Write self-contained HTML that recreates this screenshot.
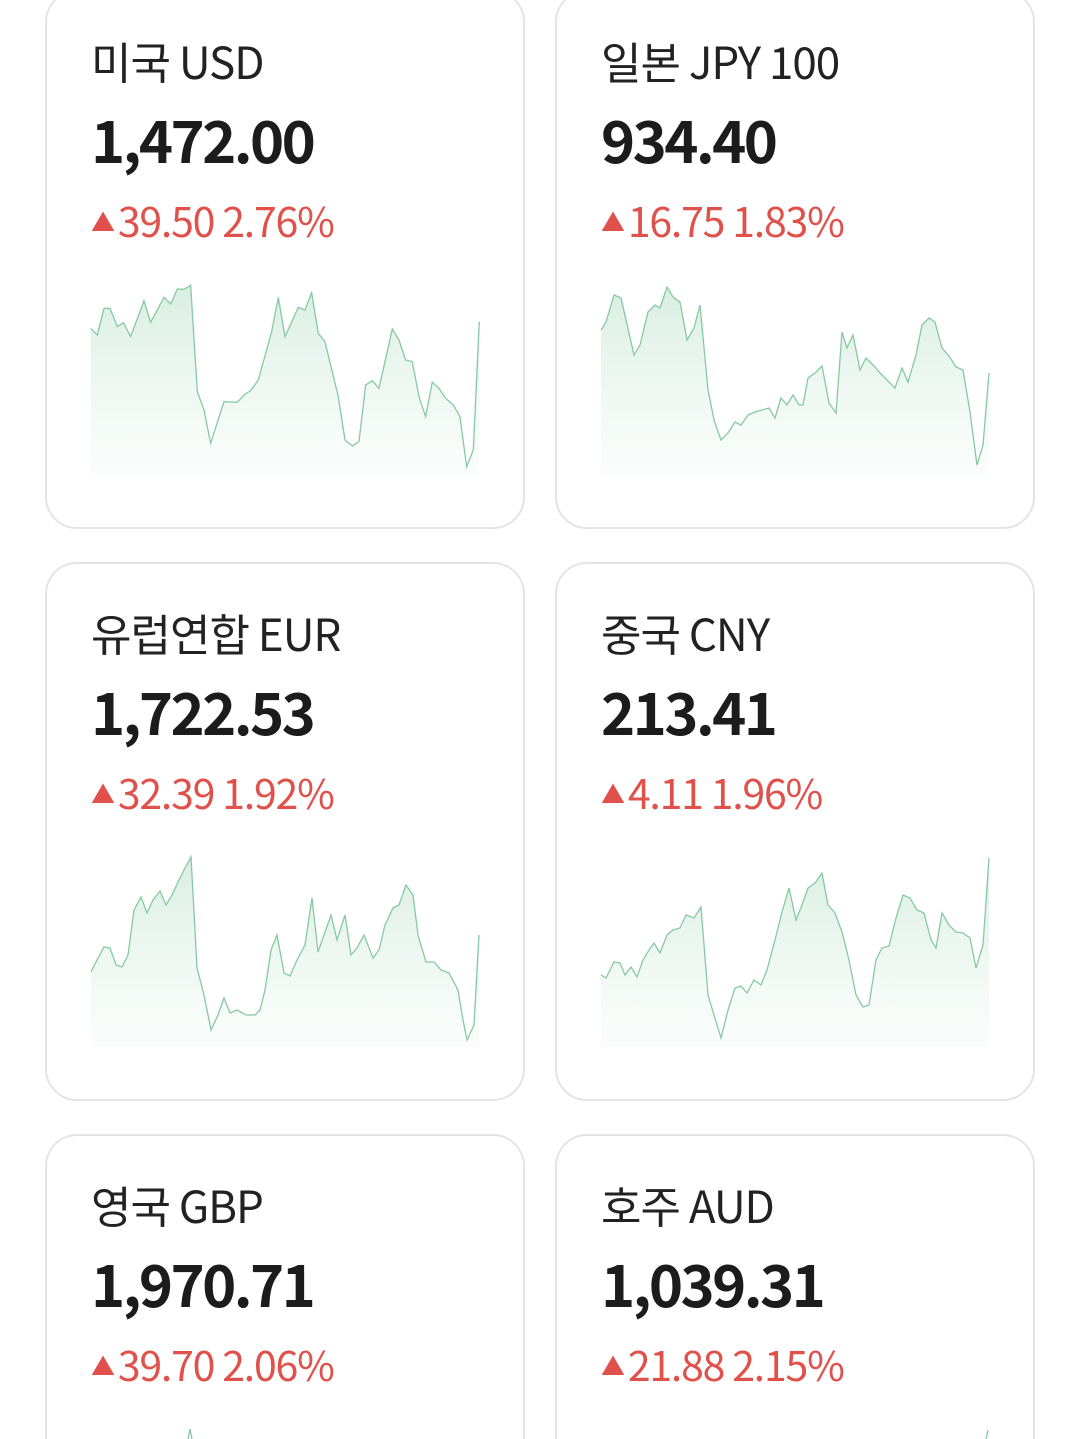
<!DOCTYPE html>
<html style="margin:0;width:1080px;height:1439px;overflow:hidden"><head><meta charset="utf-8"><style>
body{margin:0;width:1080px;height:1439px;background:#fff;overflow:hidden;position:relative;font-family:"Liberation Sans","Noto Sans CJK KR",sans-serif}
#w{position:absolute;left:0;top:0;width:1080px;height:1439px;overflow:hidden}
.card{position:absolute;width:476px;height:535px;border:2px solid #e4e4e4;border-radius:32px;background:#fff}
.card.b{height:320px;border-bottom:none;border-radius:32px 32px 0 0}
.t{position:absolute;left:44px;font-family:"Noto Sans CJK KR",sans-serif;color:#222;white-space:nowrap}
.name{top:36px;font-size:44px;font-weight:400;letter-spacing:-1px}
.val{top:104px;font-size:58px;font-weight:700;letter-spacing:-2.6px;color:#1c1c1c}
.chg{top:197px;font-size:41px;color:#e0514b;letter-spacing:-1.2px}
.chg span{font-size:24px;vertical-align:6px;margin-right:4px}
svg.s{position:absolute;left:0;top:0}
</style></head><body><div id="w">
<div class="card" style="left:45px;top:-10px"><div class="t name">미국 USD</div><div class="t val">1,472.00</div><div class="t chg"><span>▲</span>39.50 2.76%</div></div>
<div class="card" style="left:555px;top:-10px"><div class="t name">일본 JPY 100</div><div class="t val">934.40</div><div class="t chg"><span>▲</span>16.75 1.83%</div></div>
<div class="card" style="left:45px;top:562px"><div class="t name">유럽연합 EUR</div><div class="t val">1,722.53</div><div class="t chg"><span>▲</span>32.39 1.92%</div></div>
<div class="card" style="left:555px;top:562px"><div class="t name">중국 CNY</div><div class="t val">213.41</div><div class="t chg"><span>▲</span>4.11 1.96%</div></div>
<div class="card b" style="left:45px;top:1134px"><div class="t name">영국 GBP</div><div class="t val">1,970.71</div><div class="t chg"><span>▲</span>39.70 2.06%</div></div>
<div class="card b" style="left:555px;top:1134px"><div class="t name">호주 AUD</div><div class="t val">1,039.31</div><div class="t chg"><span>▲</span>21.88 2.15%</div></div>
<svg class="s" width="1080" height="1439">
<defs><linearGradient id="g" x1="0" y1="0" x2="0" y2="1"><stop offset="0" stop-color="#cfe9da" stop-opacity=".8"/><stop offset="1" stop-color="#e8f5ee" stop-opacity=".2"/></linearGradient></defs>
<g fill="none" stroke="#86c9a2" stroke-width="1.3">
<g transform="translate(40,270) scale(0.3333)">
<polygon stroke="none" fill="url(#g)" points="152,175 172,195 192,115 210,115 232,170 250,158 272,200 312,92 332,157 372,82 392,102 412,57 432,58 452,46 472,365 492,420 512,520 552,395 592,397 612,375 632,362 655,330 695,185 715,82 735,200 775,112 795,120 815,68 835,190 855,215 895,380 915,510 937,528 957,515 977,345 997,332 1017,355 1057,177 1077,210 1097,270 1117,275 1137,380 1157,440 1177,337 1197,355 1217,385 1240,405 1260,440 1280,590 1300,540 1318,155 1318,620 152,620"/>
<polyline vector-effect="non-scaling-stroke" points="152,175 172,195 192,115 210,115 232,170 250,158 272,200 312,92 332,157 372,82 392,102 412,57 432,58 452,46 472,365 492,420 512,520 552,395 592,397 612,375 632,362 655,330 695,185 715,82 735,200 775,112 795,120 815,68 835,190 855,215 895,380 915,510 937,528 957,515 977,345 997,332 1017,355 1057,177 1077,210 1097,270 1117,275 1137,380 1157,440 1177,337 1197,355 1217,385 1240,405 1260,440 1280,590 1300,540 1318,155"/>
</g>
<polygon stroke="none" fill="url(#g)" points="601,330 606,322 614,295 621,298 634,355 640,345 648,312 655,305 660,308 667,287 673,297 680,302 687,340 694,328 700,305 708,390 714,420 721,440 728,433 735,422 741,425 748,415 755,412 762,410 769,408 775,418 781,398 787,405 793,395 799,405 803,405 808,378 815,373 822,366 829,403 836,413 842,332 847,348 853,335 860,370 866,358 874,366 880,373 887,380 895,388 902,368 908,382 916,355 922,325 929,318 935,322 942,348 949,356 956,367 963,370 970,412 977,465 983,445 989,373 989,477 601,477"/>
<polyline points="601,330 606,322 614,295 621,298 634,355 640,345 648,312 655,305 660,308 667,287 673,297 680,302 687,340 694,328 700,305 708,390 714,420 721,440 728,433 735,422 741,425 748,415 755,412 762,410 769,408 775,418 781,398 787,405 793,395 799,405 803,405 808,378 815,373 822,366 829,403 836,413 842,332 847,348 853,335 860,370 866,358 874,366 880,373 887,380 895,388 902,368 908,382 916,355 922,325 929,318 935,322 942,348 949,356 956,367 963,370 970,412 977,465 983,445 989,373"/>
<polygon stroke="none" fill="url(#g)" points="91,972 97,960 104,947 110,948 116,965 122,967 128,955 134,910 141,897 147,913 153,900 160,891 166,905 172,895 179,880 185,868 191,857 197,968 204,995 211,1030 218,1015 224,998 230,1013 237,1010 246,1015 255,1015 260,1010 265,990 271,950 277,935 284,973 290,976 297,960 305,945 312,898 318,952 324,935 331,915 337,940 345,915 351,955 357,948 364,935 373,958 379,950 385,925 393,908 399,905 406,885 413,895 418,935 426,962 434,962 441,970 449,973 458,990 463,1020 467,1040 474,1025 479,935 479,1047 91,1047"/>
<polyline points="91,972 97,960 104,947 110,948 116,965 122,967 128,955 134,910 141,897 147,913 153,900 160,891 166,905 172,895 179,880 185,868 191,857 197,968 204,995 211,1030 218,1015 224,998 230,1013 237,1010 246,1015 255,1015 260,1010 265,990 271,950 277,935 284,973 290,976 297,960 305,945 312,898 318,952 324,935 331,915 337,940 345,915 351,955 357,948 364,935 373,958 379,950 385,925 393,908 399,905 406,885 413,895 418,935 426,962 434,962 441,970 449,973 458,990 463,1020 467,1040 474,1025 479,935"/>
<polygon stroke="none" fill="url(#g)" points="601,975 606,978 614,962 620,963 625,975 631,967 637,977 643,960 649,950 654,943 660,953 667,935 673,930 680,928 686,915 694,918 701,907 708,995 714,1015 721,1038 728,1010 735,988 741,986 747,993 754,980 761,985 767,970 775,940 782,912 789,888 796,920 802,905 808,888 815,883 822,873 828,905 835,913 842,932 849,960 856,995 863,1007 869,1005 876,960 882,948 889,946 896,918 903,895 910,898 917,910 924,913 931,940 936,948 942,913 949,925 956,932 963,933 970,938 976,968 983,945 989,858 989,1047 601,1047"/>
<polyline points="601,975 606,978 614,962 620,963 625,975 631,967 637,977 643,960 649,950 654,943 660,953 667,935 673,930 680,928 686,915 694,918 701,907 708,995 714,1015 721,1038 728,1010 735,988 741,986 747,993 754,980 761,985 767,970 775,940 782,912 789,888 796,920 802,905 808,888 815,883 822,873 828,905 835,913 842,932 849,960 856,995 863,1007 869,1005 876,960 882,948 889,946 896,918 903,895 910,898 917,910 924,913 931,940 936,948 942,913 949,925 956,932 963,933 970,938 976,968 983,945 989,858"/>
<polyline points="188,1439 190,1429 192,1439"/>
<polyline points="986,1439 988,1430"/>
</g></svg>
</div></body></html>
